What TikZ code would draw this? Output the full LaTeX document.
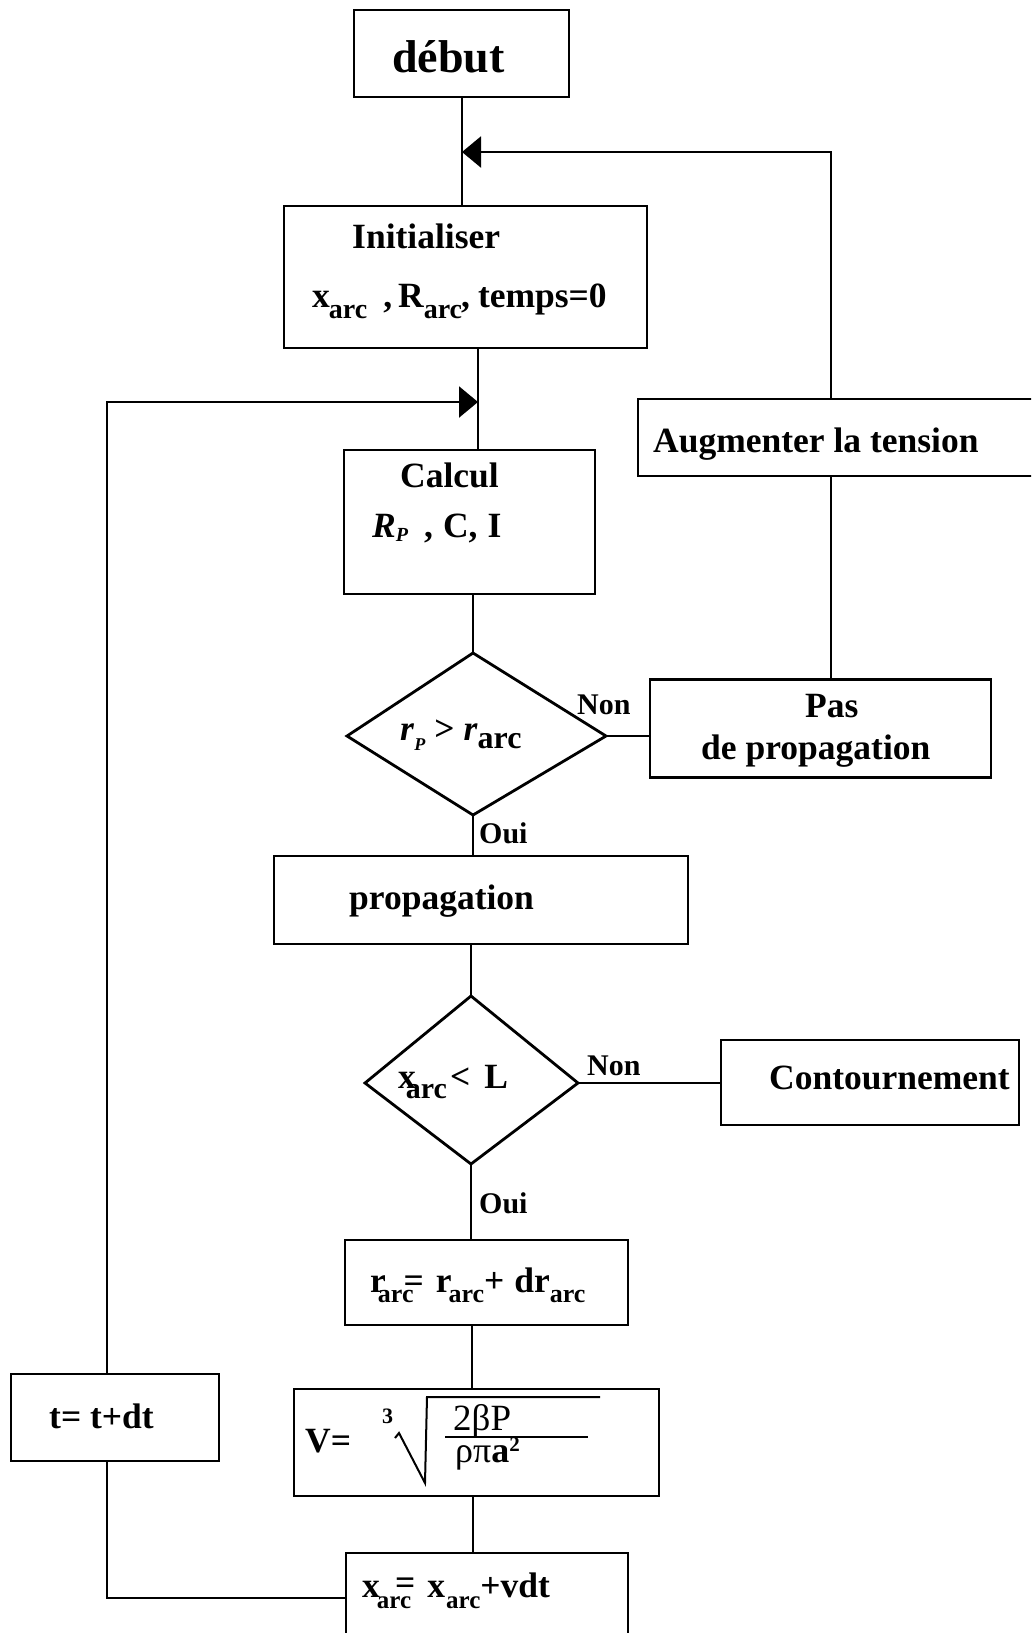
\documentclass[tikz,border=0pt]{standalone}
\usepackage{fontspec}
\setmainfont{Liberation Serif}
\usetikzlibrary{arrows.meta}
\newcommand\lowr[3]{\raisebox{-#1pt}{\fontsize{#2}{#2}\selectfont #3}}
\begin{document}
\begin{tikzpicture}[x=1pt,y=-1pt,
  box/.style={draw,line width=2.8pt,rectangle,inner sep=0pt},
  dia/.style={draw,line width=2.8pt},
  conn/.style={line width=2.6pt},
  tipped/.style={line width=2.2pt,-{Triangle[length=19pt,width=31pt]}},
  txt/.style={font=\fontsize{35.5}{40}\selectfont\bfseries,inner sep=0pt,anchor=base west},
  lbl/.style={font=\fontsize{30}{34}\selectfont\bfseries,inner sep=0pt,anchor=base west}]
\clip (0,0) rectangle (1031,1633);
\fill[white] (0,0) rectangle (1031,1633);
% boxes
\node[box,minimum width=215pt,minimum height=87pt] (debut) at (461.5,53.5) {};
\node[box,minimum width=363pt,minimum height=142pt] (init) at (465.5,277) {};
\node[box,minimum width=251pt,minimum height=144pt] (calc) at (469.5,522) {};
\node[box,minimum width=404pt,minimum height=77pt] (aug) at (840,437.5) {};
\node[box,minimum width=341pt,minimum height=98pt] (pas) at (820.5,728.5) {};
\node[box,minimum width=414pt,minimum height=88pt] (prop) at (481,900) {};
\node[box,minimum width=298pt,minimum height=85pt] (cont) at (870,1082.5) {};
\node[box,minimum width=283pt,minimum height=85pt] (rarc) at (486.5,1282.5) {};
\node[box,minimum width=365pt,minimum height=107pt] (vbox) at (476.5,1442.5) {};
\node[box,minimum width=282pt,minimum height=97pt] (xbox) at (487,1601.5) {};
\node[box,minimum width=208pt,minimum height=87pt] (tbox) at (115,1417.5) {};
% diamonds
\coordinate (d1n) at (473,653); \coordinate (d1e) at (606,736);
\coordinate (d1s) at (473,815); \coordinate (d1w) at (347,736);
\draw[dia] (d1n) -- (d1e) -- (d1s) -- (d1w) -- cycle;
\coordinate (d2n) at (471,996); \coordinate (d2e) at (578,1083);
\coordinate (d2s) at (471,1164); \coordinate (d2w) at (365,1083);
\draw[dia] (d2n) -- (d2e) -- (d2s) -- (d2w) -- cycle;
% junction points
\coordinate (j1) at (462,152);
\coordinate (j2) at (478,402);
\coordinate (c1) at (831,0);
\coordinate (c2) at (107,1598);
% connectors
\draw[conn] (debut.south -| j1) -- (init.north -| j1);
\draw[conn] (init.south -| j2) -- (calc.north -| j2);
\draw[conn] (calc.south -| d1n) -- (d1n);
\draw[conn] (d1e) -- (d1e -| pas.west);
\draw[conn] (d1s) -- (prop.north -| d1s);
\draw[conn] (prop.south -| d2n) -- (d2n);
\draw[conn] (d2e) -- (d2e -| cont.west);
\draw[conn] (d2s) -- (rarc.north -| d2s);
\draw[conn] (rarc.south -| 472,0) -- (vbox.north -| 472,0);
\draw[conn] (vbox.south -| 473,0) -- (xbox.north -| 473,0);
\draw[conn] (pas.north -| c1) -- (aug.south -| c1);
\draw[conn] (aug.north -| c1) |- (j1 -| 500,0);
\draw[tipped] (500,152) -- (j1);
\draw[conn] (tbox.north -| c2) |- (j2 -| 440,0);
\draw[tipped] (440,402) -- (j2);
\draw[conn] (tbox.south -| c2) -- (c2) -- (c2 -| xbox.west);
% texts
\node[txt,font=\fontsize{46}{50}\selectfont\bfseries] (tdebut) at (392,72) {début};
\node[txt] (tinit1) at (352,248) {Initialiser};
\node[txt] (tinit2) at (312,307) {x\kern-1pt\lowr{11}{28}{arc}\kern16pt,\kern6pt R\lowr{11}{28}{arc}\kern-1pt,\kern8pt temps=0};
\node[txt] (tcalc1) at (400,487) {Calcul};
\node[txt] (tcalc2) at (372,537) {\textit{R}\lowr{4}{20}{\textit{P}}\kern16pt,\kern10pt C,\kern10pt I};
\node[txt] (tdia1) at (400,740) {\textit{r}\lowr{10}{18}{\textit{P}}\kern9pt>\kern9pt\textit{r}\lowr{8}{32}{arc}};
\node[lbl] (non1) at (577,714) {Non};
\node[lbl] (oui1) at (479,843) {Oui};
\node[txt] (tpas1) at (805,717) {Pas};
\node[txt] (tpas2) at (701,759) {de propagation};
\node[txt] (taug) at (653,452) {Augmenter la tension};
\node[txt] (tprop) at (349,909) {propagation};
\node[txt] (tdia2) at (398,1088) {x\kern-10pt\lowr{10}{30}{arc}\kern3pt<\kern14pt L};
\node[lbl] (non2) at (587,1075) {Non};
\node[txt] (tcont) at (769,1089) {Contournement};
\node[lbl] (oui2) at (479,1213) {Oui};
\node[txt] (trarc) at (370,1292) {r\kern-8pt\lowr{10}{26}{arc}\kern-10pt=\kern12pt r\kern-3pt\lowr{10}{26}{arc}+\kern10pt dr\lowr{10}{26}{arc}};
\node[txt] (tv) at (305,1452) {V=};
\node[txt,font=\fontsize{22}{24}\selectfont\bfseries] (troot) at (382,1423) {3};
\draw[line width=2pt] (395,1438) -- (399,1433) -- (425,1483) -- (427,1397) -- (600,1397);
\node[txt,font=\fontsize{37}{40}\selectfont] (tnum) at (453,1430) {2βP};
\draw[line width=2pt] (445,1437) -- (588,1437);
\node[txt,font=\fontsize{36}{40}\selectfont] (tden) at (455,1462) {ρπ\textbf{a}\raisebox{11pt}{\fontsize{21}{21}\selectfont\bfseries 2}};
\node[txt] (txarc) at (362,1597) {x\kern-3pt\lowr{11}{25}{arc}\kern-16pt\raisebox{3pt}{=}\kern12pt x\kern1pt\lowr{11}{25}{arc}+vdt};
\node[txt] (tt) at (49,1428) {t= t+dt};
\end{tikzpicture}
\end{document}
